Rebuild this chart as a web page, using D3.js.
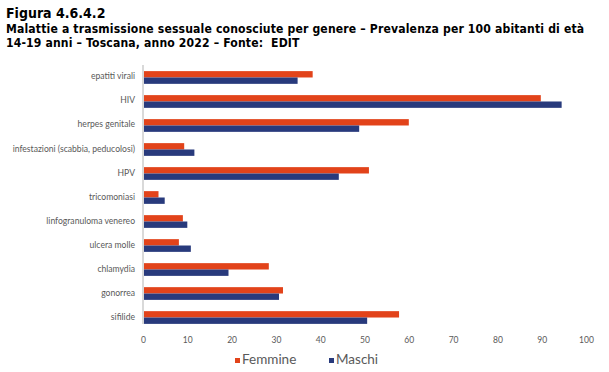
<!DOCTYPE html>
<html>
<head>
<meta charset="utf-8">
<script src="https://cdn.jsdelivr.net/npm/d3@7"></script>
<style>
  body { margin: 0; background: #fff; }
  svg { display: block; }
</style>
</head>
<body>
<div id="chart"></div>
<script>
// categories top to bottom, as in the figure
let categories = ["epatiti virali", "HIV", "herpes genitale", "infestazioni (scabbia, peducolosi)",
    "HPV", "tricomoniasi", "linfogranuloma venereo", "ulcera molle", "chlamydia", "gonorrea", "sifilide"];
let femmine = [38.3, 89.8, 60.0, 9.3, 51.0, 3.5, 9.0, 8.1, 28.4, 31.6, 57.8];
let maschi = [34.9, 94.5, 48.8, 11.6, 44.2, 4.9, 10.0, 10.8, 19.3, 30.7, 50.6];
let xTicks = [0, 10, 20, 30, 40, 50, 60, 70, 80, 90, 100];
let seriesNames = ["Femmine", "Maschi"];
let colors = ["#e2431a", "#283a7c"];

let width = 609, height = 372;
let marginLeft = 143, marginRight = 23, marginTop = 65, marginBottom = 42;
let labelFont = "Lato, 'Open Sans', sans-serif";

let svg = d3.select("#chart").append("svg")
    .attr("width", width)
    .attr("height", height);

// title
let title = svg.append("g").attr("font-family", "'DejaVu Sans Condensed', 'DejaVu Sans', sans-serif")
    .attr("font-weight", "bold").attr("fill", "#000");
title.append("text").attr("x", 6).attr("y", 18).attr("font-size", 14).text("Figura 4.6.4.2");
title.append("text").attr("x", 6).attr("y", 33).attr("font-size", 12.1).attr("letter-spacing", 0.15)
    .text("Malattie a trasmissione sessuale conosciute per genere \u2013 Prevalenza per 100 abitanti di età");
title.append("text").attr("x", 6).attr("y", 47.3).attr("font-size", 12.1).attr("letter-spacing", 0.15)
    .text("14-19 anni \u2013 Toscana, anno 2022 \u2013 Fonte:\u00a0 EDIT");

// scales
let x = d3.scaleLinear().domain([0, 100]).range([marginLeft, width - marginRight]);
let y = d3.scaleBand().domain(categories).range([marginTop, height - marginBottom]).paddingInner(0.47).paddingOuter(0.255);
let ySub = d3.scaleBand().domain(seriesNames).range([0, y.bandwidth()]);

let data = categories.map(function (c, i) {
    return {cat: c, values: [femmine[i], maschi[i]]};
});

// bars
let groups = svg.append("g").selectAll("g").data(data).enter().append("g")
    .attr("transform", function (d) { return "translate(0," + y(d.cat) + ")"; });
groups.selectAll("rect")
    .data(function (d) { return d.values.map(function (v, j) { return {v: v, s: seriesNames[j], j: j}; }); })
    .enter().append("rect")
    .attr("x", x(0))
    .attr("y", function (d) { return ySub(d.s); })
    .attr("width", function (d) { return x(d.v) - x(0); })
    .attr("height", ySub.bandwidth())
    .attr("fill", function (d) { return colors[d.j]; });

// y axis line
let lastCat = categories[categories.length - 1];
svg.append("line")
    .attr("x1", x(0)).attr("x2", x(0))
    .attr("y1", marginTop).attr("y2", y(lastCat) + y.bandwidth())
    .attr("stroke", "#d9d9d9").attr("stroke-width", 2);

// category labels
svg.append("g").selectAll("text").data(categories).enter().append("text")
    .attr("x", x(0) - 8)
    .attr("y", function (d) { return y(d) + y.bandwidth() / 2 - 1; })
    .attr("dy", "0.35em")
    .attr("text-anchor", "end")
    .attr("font-family", labelFont)
    .attr("font-size", 8.6)
    .attr("fill", "#595959")
    .text(function (d) { return d; });

// x axis (labels only)
let xAxis = svg.append("g")
    .attr("transform", "translate(0," + (y(lastCat) + y.bandwidth()) + ")")
    .call(d3.axisBottom(x).tickValues(xTicks).tickSize(0).tickPadding(13));
xAxis.select(".domain").remove();
xAxis.selectAll("text")
    .attr("font-family", labelFont)
    .attr("font-size", 8.5)
    .attr("fill", "#595959");

// legend
let legendX = [235, 329];
let legend = svg.append("g").selectAll("g").data(seriesNames).enter().append("g")
    .attr("transform", function (d, i) { return "translate(" + legendX[i] + ",359)"; });
legend.append("rect")
    .attr("x", 0).attr("y", -1)
    .attr("width", 5).attr("height", 5)
    .attr("fill", function (d, i) { return colors[i]; });
legend.append("text")
    .attr("x", 7).attr("y", 5)
    .attr("font-family", labelFont)
    .attr("font-size", 13.5)
    .attr("fill", "#595959")
    .text(function (d) { return d; });
</script>
</body>
</html>
